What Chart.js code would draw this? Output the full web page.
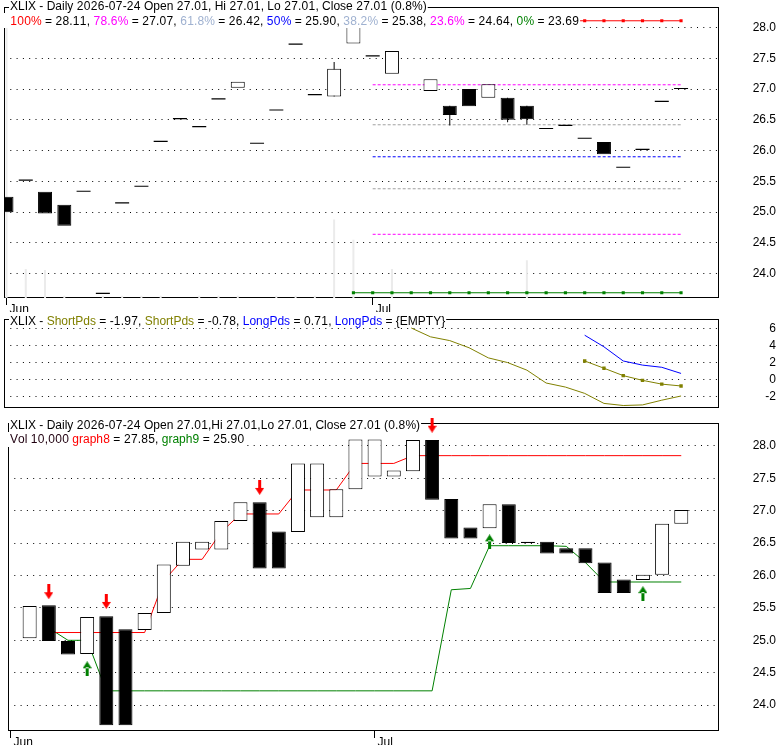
<!DOCTYPE html>
<html>
<head>
<meta charset="utf-8">
<title>XLIX daily</title>
<script src="https://cdn.jsdelivr.net/npm/chart.js@4.4.1/dist/chart.umd.min.js"></script>
<style>
  body { margin: 0; background: #fff; }
  canvas { position: absolute; left: 0; }
</style>
</head>
<body>
<canvas id="priceChart" width="780" height="312" style="top:0"></canvas>
<canvas id="oscChart" width="780" height="103" style="top:312px"></canvas>
<canvas id="tradeChart" width="780" height="330" style="top:415px"></canvas>
<script>
'use strict';

// ---- data ----
const monthLabels = [ 'Jun', 'Jul' ];
const monthStart = [ 0, 19 ];

const priceTicks = [ 24.0, 24.5, 25.0, 25.5, 26.0, 26.5, 27.0, 27.5, 28.0 ];
const oscTicks = [ -2, 0, 2, 4, 6 ];

// upper panel bars, one per day
const topOpen = [ 25.25, 25.52, 25.33, 25.12, 25.34, 23.68, 25.15, 25.42, 26.15, 26.52, 26.39, 26.84, 27.02, 26.12, 26.66, 27.73, 26.91, 26.88, 27.74, 27.54, 27.25, null, 26.97, 26.73, 27.00, 26.86, 26.86, 26.73, 26.36, 26.41, 26.20, 26.14, 25.73, 26.02, 26.80, 27.01 ];
const topClose = [ 25.00, 25.52, 24.98, 24.78, 25.34, 23.68, 25.15, 25.42, 26.15, 26.52, 26.39, 26.84, 27.12, 26.12, 26.66, 27.73, 26.91, 27.33, 28.10, 27.54, 27.62, null, 27.16, 26.58, 26.72, 27.08, 26.50, 26.51, 26.36, 26.41, 26.20, 25.94, 25.73, 26.02, 26.80, 27.01 ];
const topHigh = [ null, null, null, null, null, null, null, null, null, null, null, null, null, null, null, null, null, 27.44, null, null, null, null, null, null, null, null, null, null, null, null, null, null, null, null, null, null ];
const topLow = [ null, null, null, null, null, null, null, null, null, null, null, null, null, null, null, null, null, null, null, null, null, null, null, 26.41, null, null, 26.46, 26.42, null, null, null, null, null, null, null, null ];
const topVolume = [ 97, 10, 9.6, 0.8, 0, 0.8, 0.8, 0.8, 0.8, 0, 0.8, 0.8, 0.8, 0, 0.8, 0.8, 0.8, 27, 20, 0, 10, 0, 0, 0, 0, 0, 0, 13, 0, 0, 0, 0, 0, 0, 0, 0 ];

// retracement levels
const fibPct = [ '100%', '78.6%', '61.8%', '50%', '38.2%', '23.6%', '0%' ];
const fibPrice = [ 28.11, 27.07, 26.42, 25.90, 25.38, 24.64, 23.69 ];
const fibFrom = [ 18, 19, 19, 19, 19, 19, 18 ];
const fibTo = 35;

// middle panel
const shortPdsA = [ null, null, null, null, null, null, null, null, null, null, null, null, null, null, null, null, null, null, null, null, null, 6.11, 5.06, 4.61, 3.76, 2.56, 2.00, 1.10, -0.43, -0.91, -1.66, -2.85, -3.10, -3.03, -2.47, -1.97 ];
const shortPdsB = [ null, null, null, null, null, null, null, null, null, null, null, null, null, null, null, null, null, null, null, null, null, null, null, null, null, null, null, null, null, null, 2.19, 1.33, 0.45, -0.11, -0.56, -0.78 ];
const longPds = [ null, null, null, null, null, null, null, null, null, null, null, null, null, null, null, null, null, null, null, null, null, null, null, null, null, null, null, null, null, null, 5.25, 3.87, 2.19, 1.70, 1.44, 0.71 ];

// lower panel
const botOpen = [ null, 25.03, 25.54, 24.99, 24.79, 25.37, 25.17, 25.16, 25.42, 26.15, 26.40, 26.40, 26.84, 27.13, 26.68, 26.67, 26.90, 26.90, 27.33, 27.53, 27.53, 27.61, 28.09, 27.18, 26.74, 26.73, 27.10, 26.52, 26.52, 26.42, 26.42, 26.20, 25.94, 25.93, 26.01, 26.80 ];
const botClose = [ null, 25.53, 24.99, 24.78, 25.36, 23.69, 23.69, 25.42, 26.17, 26.52, 26.52, 26.84, 27.13, 26.11, 26.11, 27.73, 27.73, 27.33, 28.10, 28.10, 27.62, 28.09, 27.17, 26.57, 26.57, 27.10, 26.50, 26.50, 26.34, 26.34, 26.19, 25.73, 25.73, 26.01, 26.80, 27.01 ];
const graph8 = [ null, null, 25.12, 25.12, 25.12, 25.12, 25.12, 25.12, 25.92, 26.25, 26.25, 26.67, 26.95, 26.95, 26.95, 27.32, 27.32, 27.32, 27.73, 27.73, 27.73, 27.85, 27.85, 27.85, 27.85, 27.85, 27.85, 27.85, 27.85, 27.85, 27.85, 27.85, 27.85, 27.85, 27.85, 27.85 ];
const graph9 = [ null, null, 25.19, 25.00, 25.00, 24.22, 24.22, 24.22, 24.22, 24.22, 24.22, 24.22, 24.22, 24.22, 24.22, 24.22, 24.22, 24.22, 24.22, 24.22, 24.22, 24.22, 24.22, 25.78, 25.80, 26.46, 26.46, 26.46, 26.46, 26.45, 26.20, 25.90, 25.90, 25.90, 25.90, 25.90 ];
const sellDay = [ 2, 5, 13, 22 ];
const sellMark = [ 25.75, 25.60, 27.36, 28.32 ];
const buyDay = [ 4, 25, 33 ];
const buyMark = [ 24.56, 26.52, 25.72 ];

// ---- helpers ----
const FONT = "'Liberation Sans', Arial, sans-serif";
Chart.defaults.font.family = FONT;
Chart.defaults.font.size = 12;
Chart.defaults.color = '#000';
Chart.defaults.animation = false;

const xMin = -0.1295;
const xMax = 36.969;

function points( arr ) {
  let out = [];
  for ( let i = 0; i < arr.length; i++ ) {
    if ( arr[i] !== null ) out.push( { x: i, y: arr[i] } );
  }
  return out;
}

function arrowImage( color, down ) {
  let c = document.createElement( 'canvas' );
  c.width = 9;
  c.height = 15;
  let g = c.getContext( '2d' );
  g.fillStyle = color;
  g.beginPath();
  if ( down ) {
    g.rect( 3, 0, 3, 9 );
    g.moveTo( 0, 8 ); g.lineTo( 9, 8 ); g.lineTo( 4.5, 15 );
  } else {
    g.rect( 3, 6, 3, 9 );
    g.moveTo( 0, 7 ); g.lineTo( 9, 7 ); g.lineTo( 4.5, 0 );
  }
  g.closePath();
  g.fill();
  return c;
}

// digits in the original are a little wider than Liberation's
function textAdvance( ctx, ch ) {
  const w = ctx.measureText( ch ).width;
  return ( ch >= '0' && ch <= '9' ) ? 7 : w;
}

function drawPart( ctx, text, x, y ) {
  for ( const ch of text ) {
    const w = ctx.measureText( ch ).width;
    const adv = textAdvance( ctx, ch );
    ctx.fillText( ch, x + ( adv - w ) / 2, y );
    x += adv;
  }
  return x;
}

// frame + legend text with white background
function panelDecor( rows ) {
  return {
    id: 'panelDecor',
    beforeDatasetsDraw( chart ) {
      const ctx = chart.ctx;
      const a = chart.chartArea;
      ctx.save();
      ctx.strokeStyle = '#000';
      ctx.lineWidth = 1;
      ctx.strokeRect( Math.round( a.left ) + 0.5, Math.round( a.top ) + 0.5, Math.round( a.right - a.left ) - 1, Math.round( a.bottom - a.top ) - 1 );
      ctx.restore();
    },
    afterDraw( chart ) {
      const ctx = chart.ctx;
      ctx.save();
      ctx.font = '12px ' + FONT;
      ctx.textBaseline = 'alphabetic';
      for ( const row of rows ) {
        let w = 0;
        for ( const p of row.parts ) {
          for ( const ch of p[0] ) w += textAdvance( ctx, ch );
        }
        ctx.fillStyle = '#fff';
        ctx.fillRect( row.bgX, row.bgTop, 10 - row.bgX + w + 1, row.bgBottom - row.bgTop );
        let x = 10;
        for ( const p of row.parts ) {
          ctx.fillStyle = p[1];
          x = drawPart( ctx, p[0], x, row.y );
        }
      }
      ctx.restore();
    }
  };
}

function timeAxis( show ) {
  let axis = {
    type: 'linear', min: xMin, max: xMax, offset: false, display: show,
    afterBuildTicks: s => { s.ticks = monthStart.map( v => ( { value: v } ) ); },
    ticks: { autoSkip: false, maxRotation: 0, align: 'start', labelOffset: 3, padding: -3, callback: ( v, i ) => monthLabels[i] },
    grid: { offset: false, drawOnChartArea: false, drawTicks: true, tickLength: 7, color: '#000' },
    border: { display: false }
  };
  if ( show ) axis.afterFit = s => { s.height = 14; };
  return axis;
}

function valueAxis( min, max, tickList, digits ) {
  return {
    position: 'right', min: min, max: max,
    afterBuildTicks: s => { s.ticks = tickList.map( v => ( { value: v } ) ); },
    ticks: { autoSkip: false, crossAlign: 'far', padding: 0, callback: v => v.toFixed( digits ) },
    grid: { color: '#000', lineWidth: 1, drawTicks: false },
    border: { display: false, dash: [ 1, 5.3 ] },
    afterFit: s => { s.width = 57; }
  };
}

function candleSet( open, close, order ) {
  let data = [];
  let fill = [];
  for ( let i = 0; i < open.length; i++ ) {
    if ( open[i] === null || Math.abs( open[i] - close[i] ) < 0.015 ) continue;
    data.push( { x: i, y: [ open[i], close[i] ] } );
    fill.push( close[i] > open[i] ? '#fff' : '#000' );
  }
  return {
    type: 'bar', data: data, backgroundColor: fill, borderColor: '#000', borderWidth: 1,
    borderSkipped: false, barThickness: 14, grouped: false, inflateAmount: 0, order: order
  };
}

// ---- upper panel ----
let fibSets = [];
const fibLineColor = [ '#ff0000', '#ff00ff', '#a0a0a0', '#0000ff', '#a0a0a0', '#ff00ff', '#008000' ];
const fibTextColor = [ '#ff0000', '#ff00ff', '#9fb1d0', '#0000ff', '#9fb1d0', '#ff00ff', '#008000' ];
for ( let k = 0; k < fibPrice.length; k++ ) {
  const solid = k === 0 || k === fibPrice.length - 1;
  let pts = [];
  for ( let d = fibFrom[k]; d <= fibTo; d++ ) pts.push( { x: d, y: fibPrice[k] } );
  fibSets.push( {
    type: 'line', data: pts, borderColor: fibLineColor[k], borderWidth: 1,
    borderDash: solid ? [] : [ 3, 2 ], pointStyle: 'rect', pointRadius: solid ? 2.2 : 0,
    pointBackgroundColor: fibLineColor[k], pointBorderWidth: 0, order: 5
  } );
}

let dashData = [];
let wickData = [];
for ( let i = 0; i < topOpen.length; i++ ) {
  if ( topOpen[i] === null ) continue;
  if ( Math.abs( topOpen[i] - topClose[i] ) < 0.015 ) {
    dashData.push( { x: i, y: [ topOpen[i] - 0.009, topOpen[i] + 0.009 ] } );
  }
  if ( topHigh[i] !== null || topLow[i] !== null ) {
    const lo = topLow[i] !== null ? topLow[i] : Math.min( topOpen[i], topClose[i] );
    const hi = topHigh[i] !== null ? topHigh[i] : Math.max( topOpen[i], topClose[i] );
    wickData.push( { x: i, y: [ lo, hi ] } );
  }
}

let fibParts = [];
for ( let k = 0; k < fibPct.length; k++ ) {
  fibParts.push( [ fibPct[k], fibTextColor[k] ] );
  fibParts.push( [ ' = ' + fibPrice[k].toFixed( 2 ) + ( k < fibPct.length - 1 ? ', ' : '' ), '#000' ] );
}

new Chart( document.getElementById( 'priceChart' ), {
  type: 'bar',
  data: {
    datasets: [
      { type: 'bar', data: points( topVolume ), yAxisID: 'vol', backgroundColor: '#ebebeb', barThickness: 2, grouped: false, inflateAmount: 0, order: 10 },
      ...fibSets,
      { type: 'bar', data: wickData, backgroundColor: '#000', barThickness: 1, grouped: false, inflateAmount: 0, order: 2 },
      candleSet( topOpen, topClose, 1 ),
      { type: 'bar', data: dashData, backgroundColor: '#000', barThickness: 14, grouped: false, inflateAmount: 0, order: 0 }
    ]
  },
  options: {
    responsive: false,
    layout: { padding: { left: 3, right: 4, top: 5, bottom: 0 } },
    plugins: { legend: { display: false }, tooltip: { enabled: false } },
    scales: {
      x: timeAxis( true ),
      y: valueAxis( 23.6048, 28.3306, priceTicks, 1 ),
      vol: { display: false, min: 0, max: 100 }
    }
  },
  plugins: [ panelDecor( [
    { y: 10, bgX: 9, bgTop: 0, bgBottom: 13, parts: [ [ 'XLIX - Daily 2026-07-24 Open 27.01, Hi 27.01, Lo 27.01, Close 27.01 (0.8%)', '#000' ] ] },
    { y: 25, bgX: 2, bgTop: 13, bgBottom: 28, parts: fibParts }
  ] ) ]
} );

// ---- middle panel ----
new Chart( document.getElementById( 'oscChart' ), {
  type: 'line',
  data: {
    datasets: [
      { data: points( shortPdsA ), borderColor: '#808000', borderWidth: 1, pointRadius: 0 },
      { data: points( shortPdsB ), borderColor: '#808000', borderWidth: 1, pointStyle: 'rect', pointRadius: 2.4, pointBackgroundColor: '#808000', pointBorderWidth: 0 },
      { data: points( longPds ), borderColor: '#0000ff', borderWidth: 1, pointRadius: 0 }
    ]
  },
  options: {
    responsive: false,
    layout: { padding: { left: 3, right: 4, top: 7, bottom: 2 } },
    plugins: { legend: { display: false }, tooltip: { enabled: false } },
    scales: {
      x: timeAxis( false ),
      y: valueAxis( -3.373, 7.153, oscTicks, 0 )
    }
  },
  plugins: [ panelDecor( [
    { y: 13, bgX: 9, bgTop: 1, bgBottom: 15, parts: [
      [ 'XLIX - ', '#000' ], [ 'ShortPds', '#808000' ], [ ' = ' + shortPdsA[35].toFixed( 2 ) + ', ', '#000' ],
      [ 'ShortPds', '#808000' ], [ ' = ' + shortPdsB[35].toFixed( 2 ) + ', ', '#000' ],
      [ 'LongPds', '#0000ff' ], [ ' = ' + longPds[35].toFixed( 2 ) + ', ', '#000' ],
      [ 'LongPds', '#0000ff' ], [ ' = {EMPTY}', '#000' ]
    ] }
  ] ) ]
} );

// ---- lower panel ----
const sellImg = arrowImage( '#ff0000', true );
const buyImg = arrowImage( '#008000', false );

new Chart( document.getElementById( 'tradeChart' ), {
  type: 'bar',
  data: {
    datasets: [
      { type: 'line', data: points( graph8 ), borderColor: '#ff0000', borderWidth: 1, pointRadius: 0, order: 5 },
      { type: 'line', data: points( graph9 ), borderColor: '#008000', borderWidth: 1, pointRadius: 0, order: 5 },
      candleSet( botOpen, botClose, 1 ),
      { type: 'line', data: sellDay.map( ( d, k ) => ( { x: d, y: sellMark[k] } ) ), showLine: false, pointStyle: sellImg, pointRadius: 7, clip: false, order: -1 },
      { type: 'line', data: buyDay.map( ( d, k ) => ( { x: d, y: buyMark[k] } ) ), showLine: false, pointStyle: buyImg, pointRadius: 7, clip: false, order: -1 }
    ]
  },
  options: {
    responsive: false,
    layout: { padding: { left: 3, right: 4, top: 7, bottom: 0 } },
    plugins: { legend: { display: false }, tooltip: { enabled: false } },
    scales: {
      x: timeAxis( true ),
      y: valueAxis( 23.6, 28.354, priceTicks, 1 )
    }
  },
  plugins: [ panelDecor( [
    { y: 14, bgX: 9, bgTop: 3, bgBottom: 17, parts: [ [ 'XLIX - Daily 2026-07-24 Open 27.01,Hi 27.01,Lo 27.01, Close 27.01 (0.8%)', '#000' ] ] },
    { y: 28, bgX: 2, bgTop: 17, bgBottom: 32, parts: [
      [ 'Vol 10,000 ', '#200010' ], [ 'graph8', '#ff0000' ], [ ' = ' + graph8[35].toFixed( 2 ) + ', ', '#000' ],
      [ 'graph9', '#008000' ], [ ' = ' + graph9[35].toFixed( 2 ), '#000' ]
    ] }
  ] ) ]
} );
</script>
</body>
</html>
